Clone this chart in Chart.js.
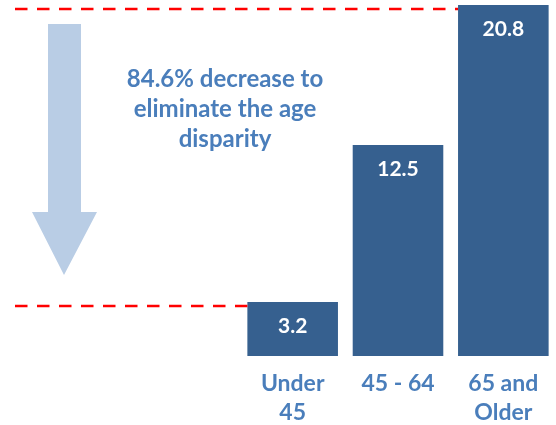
<!DOCTYPE html>
<html>
<head>
<meta charset="utf-8">
<script src="https://cdn.jsdelivr.net/npm/chart.js@4/dist/chart.umd.min.js"></script>
<style>
  body { margin: 0; background: #ffffff; }
  #wrap { width: 556px; height: 425px; position: relative; }
</style>
</head>
<body>
<div id="wrap"><canvas id="canvasage"></canvas></div>
<script>
// Age groups (x labels, one array per line)
var ageGroups = [['Under', '45'], ['45 - 64'], ['65 and', 'Older']];
// Rate per age group
var rates = [3.2, 12.5, 20.8];
// Text beside the arrow
var noteLines = ['84.6% decrease to', 'eliminate the age', 'disparity'];

var barColor = '#36608F';
var textBlue = '#4A7EBB';
var arrowColor = '#B9CDE5';
var FONT = 'Lato, "Open Sans", sans-serif';

/*
 * Red dashed guides, big arrow, note text and values inside the bars
 */
var decorPlugin = {
	id: 'decor',
	afterDatasetsDraw: function(chart)
	{
		var ctx = chart.ctx;
		var yScale = chart.scales.y;
		var bars = chart.getDatasetMeta(0).data;
		var lowIdx = 0;
		var highIdx = rates.length - 1;
		var yHigh = yScale.getPixelForValue(rates[highIdx]);
		var yLow = yScale.getPixelForValue(rates[lowIdx]);

		ctx.save();
		// dashed lines from the left edge to the bar
		ctx.strokeStyle = '#FF0000';
		ctx.lineWidth = 2.5;
		ctx.setLineDash([12.5, 9.5]);
		ctx.beginPath();
		ctx.moveTo(15, yHigh + 4);
		ctx.lineTo(bars[highIdx].x - bars[highIdx].width / 2, yHigh + 4);
		ctx.moveTo(15, yLow + 4);
		ctx.lineTo(bars[lowIdx].x - bars[lowIdx].width / 2, yLow + 4);
		ctx.stroke();
		ctx.setLineDash([]);

		// downward arrow
		var top = yHigh + 19;
		var tip = yLow - 27;
		var headTop = tip - 63;
		ctx.fillStyle = arrowColor;
		ctx.beginPath();
		ctx.moveTo(48, top);
		ctx.lineTo(81, top);
		ctx.lineTo(81, headTop);
		ctx.lineTo(97, headTop);
		ctx.lineTo(64, tip);
		ctx.lineTo(32, headTop);
		ctx.lineTo(48, headTop);
		ctx.closePath();
		ctx.fill();

		// note text
		ctx.fillStyle = textBlue;
		ctx.font = 'bold 24px ' + FONT;
		ctx.textAlign = 'center';
		ctx.textBaseline = 'alphabetic';
		for (var i = 0; i < noteLines.length; i++)
		{
			ctx.fillText(noteLines[i], 225, 87 + i * 30);
		}

		// values inside the bars
		ctx.fillStyle = '#FFFFFF';
		ctx.font = 'bold 21px ' + FONT;
		for (var j = 0; j < bars.length; j++)
		{
			ctx.fillText(String(rates[j]), bars[j].x, bars[j].y + 31);
		}
		ctx.restore();
	}
};

var chartAge = new Chart(document.getElementById('canvasage'),
{
	type: 'bar',
	data:
	{
		labels: ageGroups,
		datasets: [{
			data: rates,
			backgroundColor: barColor,
			borderWidth: 0,
			barPercentage: 0.86,
			categoryPercentage: 1.0
		}]
	},
	options:
	{
		responsive: true,
		maintainAspectRatio: false,
		animation: false,
		layout: { padding: { left: 240, right: 0, top: 5, bottom: 1 } },
		plugins:
		{
			legend: { display: false },
			tooltip: { enabled: false }
		},
		scales:
		{
			x:
			{
				grid: { display: false },
				border: { display: false },
				afterFit: function(axis) { axis.height = 68; },
				ticks:
				{
					color: textBlue,
					padding: 6,
					maxRotation: 0,
					font: { family: FONT, size: 23, weight: 'bold', lineHeight: 1.22 }
				}
			},
			y:
			{
				display: false,
				min: 0,
				max: 20.8
			}
		}
	},
	plugins: [decorPlugin]
});
</script>
</body>
</html>
